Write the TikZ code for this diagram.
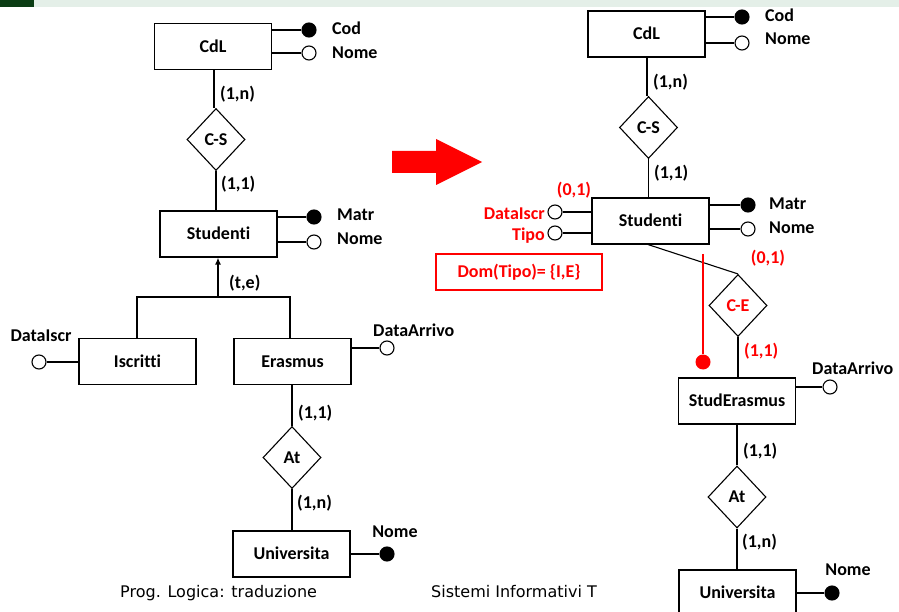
\documentclass[tikz,border=0pt]{standalone}
\usepackage{fontspec}
\setmainfont{Carlito}[Ligatures={NoCommon}]
\newfontfamily\footfont{DejaVu Sans}
\usetikzlibrary{shapes.geometric,arrows.meta}
\definecolor{barDark}{HTML}{0B3D14}
\definecolor{barLight}{HTML}{E4EFE8}
\definecolor{erRed}{HTML}{FF0000}

\begin{document}
\begin{tikzpicture}[x=1pt,y=-1pt,
  every node/.style={font=\fontsize{18}{20}\selectfont\bfseries},
  ent/.style={draw, line width=1.1pt, rectangle, minimum width=117pt,
    minimum height=46pt, inner sep=0pt, text height=11.6pt, text depth=0pt},
  rel/.style={draw, line width=1.1pt, diamond, minimum width=58pt,
    minimum height=62pt, inner sep=0pt, text height=11.6pt, text depth=0pt},
  keyattr/.style={draw, circle, line width=1.1pt, fill=black,
    minimum size=14pt, inner sep=0pt},
  attr/.style={draw, circle, line width=1.1pt, fill=white,
    minimum size=14pt, inner sep=0pt},
  lbl/.style={inner sep=0pt, text height=11.6pt, text depth=0pt},
  link/.style={line width=1.1pt},
  isa/.style={line width=1.7pt},
  foot/.style={font=\fontsize{16}{18}\selectfont\footfont, inner sep=0pt, anchor=base west}
]
\clip (0,0) rectangle (899,612);

% header bar
\fill[barDark] (0,0) rectangle (34,7);
\fill[barLight] (34,0) rectangle (899,7);

% ---------------- schema with generalization ----------------
\node[ent] (cdlA) at (213,46.5) {CdL};
\node[keyattr] (cdlAcod) at (309,30) {};
\node[attr] (cdlAnome) at (309,53) {};
\draw[link] (cdlAcod) -- (cdlAcod -| cdlA.east);
\draw[link] (cdlAnome) -- (cdlAnome -| cdlA.east);
\node[lbl, anchor=west] at (332,28.5) {Cod};
\node[lbl, anchor=west] at (332,52.5) {Nome};

\node[rel] (csA) at (216,139.5) {C-S};
\draw[link] (csA.north) ++(-2,0) coordinate (csAtop) -- (csAtop |- cdlA.south);
\node[lbl, anchor=west] at (220,94) {(1,n)};

\node[ent] (studA) at (218.5,234) {Studenti};
\draw[link] (csA.south) -- (csA.south |- studA.north);
\node[lbl, anchor=west] at (221,184) {(1,1)};
\node[keyattr] (studAmatr) at (314,217) {};
\node[attr] (studAnome) at (314,242) {};
\draw[link] (studAmatr) -- (studAmatr -| studA.east);
\draw[link] (studAnome) -- (studAnome -| studA.east);
\node[lbl, anchor=west] at (337,215) {Matr};
\node[lbl, anchor=west] at (337,239) {Nome};

% generalization
\node[ent] (iscr) at (137.5,361.5) {Iscritti};
\node[ent] (erasm) at (292.5,361.5) {Erasmus};
\coordinate (genMid) at (218,297);
\coordinate (genL) at (137,297);
\coordinate (genR) at (290,297);
\draw[isa, -{Latex[length=7pt,width=6pt]}] (genMid) -- (genMid |- studA.south);
\draw[isa] (genL |- iscr.north) -- (genL) -- (genR) -- (genR |- erasm.north);
\node[lbl, anchor=west] at (229,283) {(t,e)};

\node[attr] (iscrData) at (39,362) {};
\draw[link] (iscrData) -- (iscrData -| iscr.west);
\node[lbl] at (41,336) {DataIscr};

\node[attr] (erasmData) at (387,348) {};
\draw[link] (erasmData) -- (erasmData -| erasm.east);
\node[lbl, anchor=west] at (373,331) {DataArrivo};

\node[rel] (atA) at (292,457.5) {At};
\draw[link] (atA.north) -- (atA.north |- erasm.south);
\node[lbl, anchor=west] at (298,412.5) {(1,1)};

\node[ent] (uniA) at (291.5,554) {Universita};
\draw[link] (atA.south) -- (atA.south |- uniA.north);
\node[lbl, anchor=west] at (297,502.5) {(1,n)};
\node[keyattr] (uniAnome) at (387,554) {};
\draw[link] (uniAnome) -- (uniAnome -| uniA.east);
\node[lbl] at (395,531.5) {Nome};

% ---------------- arrow ----------------
\fill[erRed] (392,151) -- (436,151) -- (436,139) -- (482,162) -- (436,185)
  -- (436,173) -- (392,173) -- cycle;

% ---------------- translated schema ----------------
\node[ent] (cdlB) at (646.5,34) {CdL};
\node[keyattr] (cdlBcod) at (742,17) {};
\node[attr] (cdlBnome) at (742,43) {};
\draw[link] (cdlBcod) -- (cdlBcod -| cdlB.east);
\draw[link] (cdlBnome) -- (cdlBnome -| cdlB.east);
\node[lbl, anchor=west] at (765,15.5) {Cod};
\node[lbl, anchor=west] at (765,39) {Nome};

\node[rel] (csB) at (648.5,127.5) {C-S};
\draw[link] (csB.north) ++(-1.5,0) coordinate (csBtop) -- (csBtop |- cdlB.south);
\node[lbl, anchor=west] at (653,82) {(1,n)};

\node[ent] (studB) at (650.5,221) {Studenti};
\draw[link] (csB.south) -- (csB.south |- studB.north);
\node[lbl, anchor=west] at (654,173) {(1,1)};
\node[keyattr] (studBmatr) at (748,205) {};
\node[attr] (studBnome) at (748,229) {};
\draw[link] (studBmatr) -- (studBmatr -| studB.east);
\draw[link] (studBnome) -- (studBnome -| studB.east);
\node[lbl, anchor=west] at (769,203.5) {Matr};
\node[lbl, anchor=west] at (769,227.5) {Nome};

\node[attr] (studBdata) at (555,212) {};
\node[attr] (studBtipo) at (555,233) {};
\draw[link] (studBdata) -- (studBdata -| studB.west);
\draw[link] (studBtipo) -- (studBtipo -| studB.west);
\node[lbl, anchor=east, text=erRed] at (545,213.5) {DataIscr};
\node[lbl, anchor=east, text=erRed] at (545,235) {Tipo};
\node[lbl, text=erRed] at (574,189.5) {(0,1)};

\node[draw=erRed, line width=1.1pt, minimum width=166pt, minimum height=36pt,
  inner sep=0pt, text height=11.6pt, text depth=0pt, text=erRed]
  (dom) at (519,272) {Dom(Tipo)= \{I,E\}};

\node[rel, text=erRed] (ce) at (738,305.5) {C-E};
\draw[link] ([xshift=-2.5pt]studB.south) coordinate (studBfoot) -- (ce.north);
\node[lbl, text=erRed] at (768,257.5) {(0,1)};

\coordinate (redTop) at (703,254);
\node[circle, fill=erRed, minimum size=15pt, inner sep=0pt] (redDot) at (703,362) {};
\draw[erRed, line width=1.1pt] (redTop) -- (redDot);

\node[ent] (studEr) at (737,401) {StudErasmus};
\draw[link] (ce.south) -- (ce.south |- studEr.north);
\node[lbl, anchor=west, text=erRed] at (744,350.5) {(1,1)};
\node[attr] (studErData) at (830,387) {};
\draw[link] (studErData) -- (studErData -| studEr.east);
\node[lbl, anchor=west] at (812,368.5) {DataArrivo};

\node[rel] (atB) at (737,497) {At};
\draw[link] (atB.north) -- (atB.north |- studEr.south);
\node[lbl, anchor=west] at (743,451) {(1,1)};

\node[ent] (uniB) at (737.5,593) {Universita};
\draw[link] (atB.south) -- (atB.south |- uniB.north);
\node[lbl, anchor=west] at (742,542) {(1,n)};
\node[keyattr] (uniBnome) at (832,593) {};
\draw[link] (uniBnome) -- (uniBnome -| uniB.east);
\node[lbl] at (848,570) {Nome};

% footer
\node[foot] (footL) at (120,597) {Prog. Logica: traduzione};
\node[foot] (footR) at (431,597) {Sistemi Informativi T};
\end{tikzpicture}
\end{document}
